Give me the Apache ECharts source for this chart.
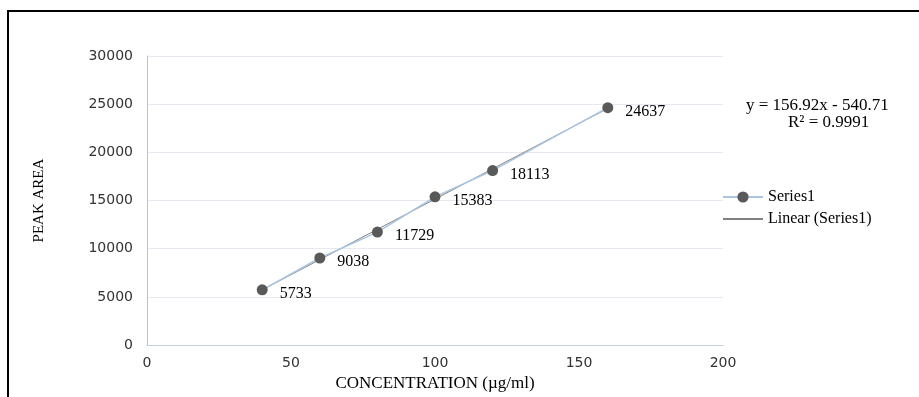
<!DOCTYPE html>
<html><head><meta charset="utf-8">
<script src="https://cdn.jsdelivr.net/npm/echarts@6/dist/echarts.min.js"></script>
<style>html,body{margin:0;padding:0;background:#fff}#c{width:919px;height:397px}</style>
</head><body><div id="c"></div>
<script>
const concentrations = [40, 60, 80, 100, 120, 160];
const peakAreas = [5733, 9038, 11729, 15383, 18113, 24637];
const trendX = [40, 160];
const trendY = [5736.09, 24566.49];
const yTicks = [0, 5000, 10000, 15000, 20000, 25000, 30000];
const xTicks = [0, 50, 100, 150, 200];
const equationText = 'y = 156.92x - 540.71';
const r2Text = 'R² = 0.9991';

const serif = '"Liberation Serif", "DejaVu Serif", serif';
const sans = '"DejaVu Sans", sans-serif';

const chart = echarts.init(document.getElementById('c'), null, {renderer: 'canvas'});
chart.setOption({
  animation: false,
  backgroundColor: '#fff',
  grid: {left: 147, right: 196, top: 56, bottom: 49},
  xAxis: {
    type: 'value', min: xTicks[0], max: xTicks[xTicks.length - 1], interval: 50,
    name: 'CONCENTRATION (µg/ml)', nameLocation: 'middle', nameGap: 29,
    nameTextStyle: {fontFamily: serif, fontSize: 17, color: '#000'},
    axisLine: {show: true, lineStyle: {color: '#c5cfdc', width: 1}},
    axisTick: {show: false},
    splitLine: {show: false},
    axisLabel: {fontFamily: sans, fontSize: 14, color: '#333', margin: 11,
      formatter: v => String(v)}
  },
  yAxis: {
    type: 'value', min: yTicks[0], max: yTicks[yTicks.length - 1], interval: 5000,
    name: 'PEAK AREA', nameLocation: 'middle', nameGap: 100, nameRotate: 90,
    nameTextStyle: {fontFamily: serif, fontSize: 15, color: '#000'},
    axisLine: {show: true, lineStyle: {color: '#b5c2d3', width: 1}},
    axisTick: {show: false},
    splitLine: {show: true, lineStyle: {color: '#e8e9f0', width: 1}},
    axisLabel: {fontFamily: sans, fontSize: 14, color: '#333', margin: 14,
      formatter: v => String(v)}
  },
  legend: {
    orient: 'vertical', left: 717, top: 184, itemWidth: 40, itemHeight: 14, itemGap: 6,
    textStyle: {fontFamily: serif, fontSize: 16, color: '#000'},
    data: [
      {name: 'Series1'},
      {name: 'Linear (Series1)', itemStyle: {opacity: 0}}
    ]
  },
  series: [
    {
      name: 'Linear (Series1)', type: 'line', z: 2,
      data: trendX.map((x, i) => [x, trendY[i]]),
      symbol: 'none',
      lineStyle: {color: '#808080', width: 1},
      itemStyle: {color: '#808080'}
    },
    {
      name: 'Series1', type: 'line', z: 3,
      data: concentrations.map((x, i) => [x, peakAreas[i]]),
      symbol: 'circle', symbolSize: 11,
      lineStyle: {color: '#a8c6e4', width: 1.5},
      itemStyle: {color: '#595959', borderWidth: 0},
      label: {show: true, position: 'right', distance: 12, offset: [0, 4],
        fontFamily: serif, fontSize: 16, color: '#000',
        formatter: p => String(p.value[1])}
    }
  ],
  graphic: [
    {type: 'polyline', shape: {points: [[8, 397], [8, 11], [919, 11]]},
      style: {stroke: '#000', lineWidth: 2, fill: null}, silent: true},
    {type: 'text', left: 746, top: 97,
      style: {text: equationText, font: '17px "Liberation Serif", serif', fill: '#000'}},
    {type: 'text', left: 788, top: 114,
      style: {text: r2Text, font: '17px "Liberation Serif", serif', fill: '#000'}}
  ]
});
</script></body></html>
